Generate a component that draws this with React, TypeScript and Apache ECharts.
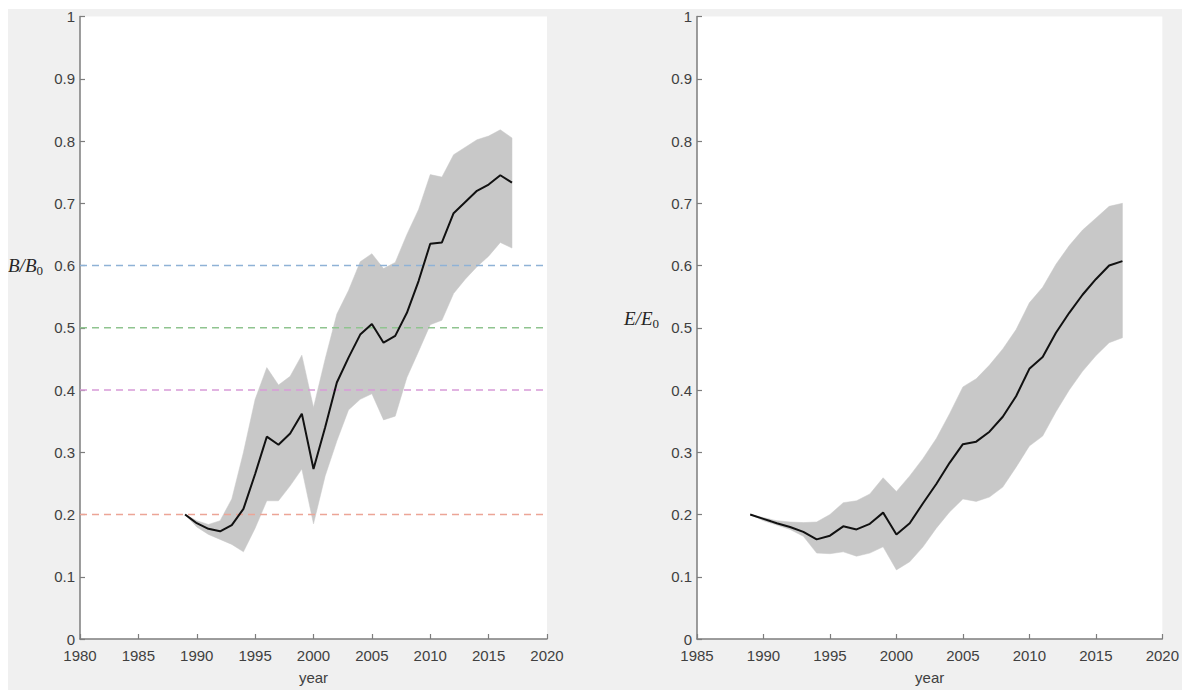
import React, { useEffect, useRef } from "react";
import * as echarts from "echarts";

const years = [1989, 1990, 1991, 1992, 1993, 1994, 1995, 1996, 1997, 1998, 1999, 2000, 2001, 2002, 2003, 2004, 2005, 2006, 2007, 2008, 2009, 2010, 2011, 2012, 2013, 2014, 2015, 2016, 2017];

const bMean = [0.200, 0.186, 0.177, 0.173, 0.183, 0.209, 0.265, 0.325, 0.312, 0.330, 0.362, 0.273, 0.340, 0.412, 0.452, 0.489, 0.506, 0.476, 0.487, 0.524, 0.575, 0.635, 0.637, 0.684, 0.702, 0.720, 0.730, 0.745, 0.733];
const bUpper = [0.200, 0.190, 0.184, 0.190, 0.225, 0.300, 0.385, 0.436, 0.408, 0.422, 0.456, 0.372, 0.450, 0.522, 0.560, 0.606, 0.619, 0.595, 0.605, 0.650, 0.690, 0.746, 0.742, 0.778, 0.790, 0.802, 0.808, 0.818, 0.805];
const bLower = [0.200, 0.180, 0.168, 0.160, 0.152, 0.140, 0.178, 0.222, 0.222, 0.246, 0.273, 0.185, 0.262, 0.318, 0.368, 0.385, 0.394, 0.352, 0.358, 0.420, 0.462, 0.505, 0.512, 0.555, 0.578, 0.598, 0.615, 0.637, 0.628];

const eMean = [0.200, 0.193, 0.186, 0.180, 0.172, 0.160, 0.166, 0.181, 0.176, 0.185, 0.203, 0.168, 0.186, 0.218, 0.249, 0.283, 0.313, 0.317, 0.333, 0.357, 0.390, 0.434, 0.453, 0.492, 0.524, 0.553, 0.578, 0.600, 0.607];
const eUpper = [0.200, 0.195, 0.190, 0.188, 0.187, 0.188, 0.200, 0.219, 0.222, 0.233, 0.259, 0.237, 0.262, 0.290, 0.322, 0.362, 0.405, 0.418, 0.440, 0.466, 0.497, 0.540, 0.565, 0.602, 0.632, 0.657, 0.676, 0.695, 0.700];
const eLower = [0.200, 0.190, 0.183, 0.176, 0.165, 0.138, 0.137, 0.140, 0.133, 0.138, 0.148, 0.111, 0.124, 0.148, 0.178, 0.204, 0.225, 0.221, 0.228, 0.244, 0.276, 0.310, 0.326, 0.365, 0.400, 0.430, 0.455, 0.476, 0.484];

const refLevels = [0.6, 0.5, 0.4, 0.2];
const refColors = ["#8fb2d6", "#8fc48f", "#d79ad7", "#eca596"];

const leftXRange = [1980, 2020];
const rightXRange = [1985, 2020];

const FONT = "'Liberation Sans', Arial, Helvetica, sans-serif";
const SERIF = "'Liberation Serif', 'DejaVu Serif', serif";
const AXIS_COLOR = "#7d7d7d";
const TEXT_COLOR = "#404040";

function bandSeries(axisIdx: number, lower: number[], upper: number[]) {
  return {
    type: "custom",
    xAxisIndex: axisIdx,
    yAxisIndex: axisIdx,
    silent: true,
    z: 1,
    data: years.map((y, i) => [y, lower[i], upper[i]]),
    encode: { x: 0, y: [1, 2] },
    renderItem: (params: any, api: any) => {
      if (params.dataIndex !== 0) return null;
      const pts: number[][] = [];
      for (let i = 0; i < years.length; i++) pts.push(api.coord([years[i], upper[i]]));
      for (let i = years.length - 1; i >= 0; i--) pts.push(api.coord([years[i], lower[i]]));
      return {
        type: "polygon",
        shape: { points: pts },
        style: { fill: "#c8c8c8", stroke: "#c8c8c8", lineWidth: 0.5 },
      };
    },
  };
}

function xAxis(gridIndex: number, range: number[]) {
  return {
    type: "value",
    gridIndex,
    min: range[0],
    max: range[1],
    interval: 5,
    name: "year",
    nameLocation: "middle",
    nameGap: 31,
    nameTextStyle: { color: TEXT_COLOR, fontSize: 15, fontFamily: FONT },
    axisLine: { show: true, onZero: false, lineStyle: { color: AXIS_COLOR, width: 1.5 } },
    axisTick: { show: true, inside: true, length: 5, lineStyle: { color: AXIS_COLOR, width: 1.2 } },
    axisLabel: {
      color: TEXT_COLOR,
      fontSize: 15,
      fontFamily: FONT,
      margin: 9,
      formatter: (v: number) => String(v),
    },
    splitLine: { show: false },
  };
}

function yAxis(gridIndex: number) {
  return {
    type: "value",
    gridIndex,
    min: 0,
    max: 1,
    interval: 0.1,
    axisLine: { show: true, onZero: false, lineStyle: { color: AXIS_COLOR, width: 1.5 } },
    axisTick: { show: true, inside: true, length: 5, lineStyle: { color: AXIS_COLOR, width: 1.2 } },
    axisLabel: {
      color: TEXT_COLOR,
      fontSize: 15,
      fontFamily: FONT,
      margin: 5,
      formatter: (v: number) => String(Math.round(v * 10) / 10),
    },
    splitLine: { show: false },
  };
}

const labelRich = {
  a: { fontFamily: SERIF, fontStyle: "italic", fontSize: 19, lineHeight: 22, fill: "#262626" },
  b: { fontFamily: SERIF, fontSize: 13, lineHeight: 13, verticalAlign: "bottom", fill: "#262626" },
};

export default function App() {
  const ref = useRef<HTMLDivElement>(null);
  useEffect(() => {
    if (!ref.current) return;
    const chart = echarts.init(ref.current, null, { renderer: "svg" });
    const refSeries = refLevels.map((lvl, i) => ({
      type: "line",
      xAxisIndex: 0,
      yAxisIndex: 0,
      data: [
        [leftXRange[0], lvl],
        [leftXRange[1], lvl],
      ],
      symbol: "none",
      silent: true,
      z: 3,
      lineStyle: { color: refColors[i], width: 1.5, type: [7, 5] },
    }));
    const option = {
      animation: false,
      backgroundColor: "transparent",
      grid: [
        { left: 72, top: 6, width: 467, height: 630, show: true, backgroundColor: "#ffffff", borderWidth: 0 },
        { left: 689, top: 6, width: 467, height: 630, show: true, backgroundColor: "#ffffff", borderWidth: 0 },
      ],
      xAxis: [xAxis(0, leftXRange), xAxis(1, rightXRange)],
      yAxis: [yAxis(0), yAxis(1)],
      graphic: [
        {
          type: "text",
          left: 0,
          top: 247,
          style: { text: "{a|B/B}{b|0}", rich: labelRich },
        },
        {
          type: "text",
          left: 616,
          top: 300,
          style: { text: "{a|E/E}{b|0}", rich: labelRich },
        },
      ],
      series: [
        bandSeries(0, bLower, bUpper),
        ...refSeries,
        {
          type: "line",
          xAxisIndex: 0,
          yAxisIndex: 0,
          data: years.map((y, i) => [y, bMean[i]]),
          symbol: "none",
          z: 4,
          lineStyle: { color: "#111111", width: 2 },
        },
        bandSeries(1, eLower, eUpper),
        {
          type: "line",
          xAxisIndex: 1,
          yAxisIndex: 1,
          data: years.map((y, i) => [y, eMean[i]]),
          symbol: "none",
          z: 4,
          lineStyle: { color: "#111111", width: 2 },
        },
      ],
    };
    chart.setOption(option as any);
    return () => chart.dispose();
  }, []);
  return (
    <div
      ref={ref}
      style={{ position: "fixed", left: 8, top: 9, width: 1174, height: 681, background: "#f0f0f0" }}
    />
  );
}
